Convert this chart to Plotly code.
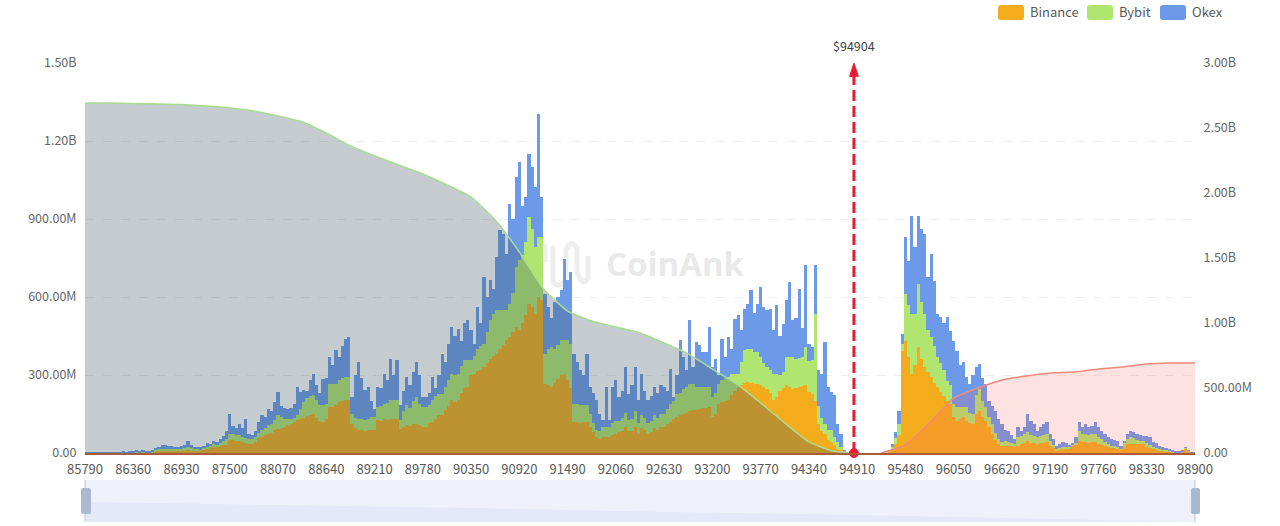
import plotly.graph_objects as go

# liquidation levels, values in millions, one row per x tick interval
binance = [
    0,0,1,0,0,1,1,0,1,1,1,1,1,1,1,
    1,2,2,3,2,1,3,6,8,9,10,10,9,9,10,
    10,11,13,11,9,9,8,12,17,18,24,22,26,30,32,
    49,50,47,46,42,40,36,36,44,56,62,68,74,78,87,
    94,98,100,106,112,120,126,130,135,142,148,151,135,124,119,
    130,177,177,185,195,200,203,203,113,95,87,87,85,87,87,
    90,126,125,130,128,132,130,132,94,100,108,105,110,113,108,
    100,100,115,120,130,145,145,165,180,203,195,203,230,250,254,
    300,305,315,320,331,345,360,375,382,400,415,433,445,465,485,
    472,500,530,574,560,536,600,590,267,260,254,270,285,300,305,
    279,250,119,119,115,120,119,100,80,62,55,62,62,62,70,
    74,80,85,100,85,85,100,75,95,90,75,80,95,90,100,
    100,110,120,130,138,145,150,155,160,164,165,170,172,175,177,
    138,150,190,195,200,203,225,240,254,260,268,273,270,265,267,
    260,255,247,230,203,215,240,250,260,255,247,250,255,258,260,
    235,228,200,110,85,74,50,42,30,17,10,3,0,0,0,
    0,0,0,0,0,0,0,0,0,0,5,15,35,70,394,
    432,370,304,340,406,360,329,310,291,270,253,235,220,201,190,
    140,124,130,137,125,115,112,150,163,140,124,100,73,50,35,
    28,28,28,28,25,28,35,40,47,40,38,35,38,40,41,
    28,20,9,12,15,14,18,28,30,47,42,42,40,41,41,
    35,32,28,25,22,20,18,12,25,35,35,33,35,35,33,
    22,20,14,12,9,8,6,4,3,2,2,4,19,6,1,
    1,
]
bybit = [
    0,0,0,0,0,0,0,0,0,1,0,1,1,1,1,
    1,2,1,3,1,1,2,5,6,7,7,7,6,6,6,
    7,7,12,7,6,6,5,7,8,8,10,9,12,15,22,
    25,24,22,23,18,17,19,19,18,22,28,28,32,32,39,
    51,40,32,24,18,14,20,40,60,68,72,71,70,60,64,
    60,90,90,82,85,88,89,89,38,40,45,42,41,45,51,
    48,51,55,60,65,71,72,71,32,60,75,70,90,102,80,
    77,77,70,85,90,83,83,90,100,102,105,102,105,106,102,
    56,70,85,90,89,120,150,160,167,149,134,116,130,150,230,
    269,260,280,333,300,256,230,240,115,140,154,130,130,133,128,
    154,170,71,70,68,65,64,50,35,25,30,38,38,38,45,
    50,45,50,55,42,45,60,40,50,45,40,45,50,45,51,
    51,60,70,70,90,85,95,100,105,103,90,85,80,80,77,
    77,80,77,85,90,89,80,65,51,90,130,128,130,125,121,
    109,90,84,90,102,90,60,60,109,114,122,110,110,110,148,
    120,128,336,70,50,39,40,45,30,25,12,2,0,0,0,
    0,0,0,0,0,0,0,0,0,0,3,10,22,42,26,
    179,200,231,195,244,220,206,165,154,140,115,110,100,77,70,
    50,52,46,39,51,40,38,75,83,60,52,40,39,28,20,
    15,18,15,12,8,35,32,33,32,30,28,25,28,30,32,
    18,12,6,8,9,8,6,6,10,39,30,32,30,32,32,
    25,20,15,10,6,8,6,4,12,20,25,25,14,12,14,
    15,12,8,8,6,5,4,4,2,1,1,2,2,2,1,
    0,
]
okex = [
    1,1,1,1,1,1,1,1,1,1,1,1,2,1,2,
    3,4,3,5,3,3,3,9,11,13,13,11,11,9,9,
    9,11,23,12,9,10,9,8,13,10,14,11,14,19,31,
    77,31,26,41,35,75,20,13,23,42,55,44,64,50,69,
    90,42,43,40,42,56,108,65,46,30,60,83,55,46,103,
    100,102,73,128,90,122,148,154,64,165,218,161,115,122,62,
    30,77,70,115,87,160,98,153,60,80,109,85,110,135,112,
    40,38,45,87,30,72,154,95,140,180,150,173,95,144,154,
    116,45,162,90,257,135,154,95,205,307,295,218,384,285,346,
    378,190,175,244,240,231,472,155,231,162,112,181,185,193,314,
    231,276,192,161,135,115,199,104,115,116,65,26,154,26,139,
    155,90,105,176,101,130,171,88,160,105,88,95,109,95,109,
    103,70,134,15,72,203,124,65,245,63,172,159,136,133,231,
    116,130,33,160,79,154,95,212,225,122,157,173,226,150,186,
    269,215,218,235,167,263,150,187,218,289,141,160,267,112,314,
    65,52,186,140,170,314,164,148,162,71,52,5,0,0,0,
    0,0,0,0,0,0,0,0,0,0,3,10,25,50,38,
    218,170,378,256,263,281,307,201,320,253,167,177,180,244,210,
    242,218,164,173,115,110,150,104,96,90,89,61,68,85,75,
    69,44,43,30,21,36,18,26,71,54,44,26,33,40,45,
    27,23,13,15,17,16,4,1,20,32,27,36,30,32,45,
    39,33,32,25,26,22,24,12,8,18,26,22,26,23,20,
    30,28,19,18,13,12,10,7,5,3,2,2,1,2,1,
    1,
]
prices = list(range(85790, 98901, 38))

# cumulative curves, millions, one value per half tick (None where the curve sits on the axis)
cum_prices = list(range(85790, 98901, 285))
cum_short = [
    2692,2692,2688,2685,2681,2669,2654,2631,2592,2546,2462,2362,2285,2215,2146,2062,
    1969,1792,1546,1262,1092,1015,969,923,846,762,646,531,385,231,85,15,
    0,None,None,None,None,None,None,None,None,None,None,None,None,None,None,
]
cum_long = [
    None,None,None,None,None,None,None,None,None,None,None,None,None,None,None,None,
    None,None,None,None,None,None,None,None,None,None,None,None,None,None,None,None,
    None,0,62,231,423,500,562,592,615,623,646,662,685,692,692,
]

current_price = 94904
# the site draws its marker on the nearest category, a little left of the tick
marker_x = 94872
tick_prices = list(range(85790, 98901, 570))
left_vals = [0, 300, 600, 900, 1200, 1500]
left_text = ["0.00", "300.00M", "600.00M", "900.00M", "1.20B", "1.50B"]
right_vals = [0, 500, 1000, 1500, 2000, 2500, 3000]
right_text = ["0.00", "500.00M", "1.00B", "1.50B", "2.00B", "2.50B", "3.00B"]
overview_prices = [85790, 88070, 90350, 92630, 94910, 97190, 98900]
overview_values = [20, 17, 14, 10, 7, 3, 0]

FONT = "Noto Sans CJK SC"
W, H = 1280, 526
L, R = 85, 1195


def px(x):
    return (x - L) / (R - L)


def py(y):
    return 1 - y / H


def round_rect(x0, y0, x1, y1, r):
    return (f"M{px(x0 + r)},{py(y0)} L{px(x1 - r)},{py(y0)} Q{px(x1)},{py(y0)} {px(x1)},{py(y0 + r)} "
            f"L{px(x1)},{py(y1 - r)} Q{px(x1)},{py(y1)} {px(x1 - r)},{py(y1)} "
            f"L{px(x0 + r)},{py(y1)} Q{px(x0)},{py(y1)} {px(x0)},{py(y1 - r)} "
            f"L{px(x0)},{py(y0 + r)} Q{px(x0)},{py(y0)} {px(x0 + r)},{py(y0)} Z")


fig = go.Figure()
for name, vals, color in [("Binance", binance, "#f5ac1c"),
                          ("Bybit", bybit, "#b0e670"),
                          ("Okex", okex, "#6c9ae8")]:
    fig.add_trace(go.Bar(x=prices, y=vals, name=name, width=38, marker_color=color,
                         marker_line_width=0, xaxis="x", yaxis="y"))

fig.add_trace(go.Scatter(x=cum_prices, y=cum_short, mode="lines", yaxis="y2", fill="tozeroy",
                         line=dict(color="#a9dc92", width=1.5, shape="spline", smoothing=0.5),
                         fillcolor="rgba(58,85,95,0.3)"))
fig.add_trace(go.Scatter(x=cum_prices, y=cum_long, mode="lines", yaxis="y2", fill="tozeroy",
                         line=dict(color="#ee8a7c", width=1.5, shape="spline", smoothing=0.5),
                         fillcolor="rgba(250,90,90,0.18)"))

# current price marker
fig.add_trace(go.Scatter(x=[marker_x, marker_x], y=[right_vals[0], right_vals[-1]],
                         mode="lines+markers", yaxis="y2", cliponaxis=False,
                         line=dict(color="#ea1c35", width=3, dash="11px,5px"),
                         marker=dict(color="#ea1c35", size=[9, 14], symbol=["circle", "arrow"], opacity=1,
                                     line=dict(color="#ea1c35", width=1))))

# range slider look
fig.add_trace(go.Scatter(x=overview_prices, y=overview_values, mode="lines", xaxis="x2", yaxis="y3",
                         fill="tozeroy", line_width=0, fillcolor="#e4e8f8"))

fig.update_layout(
    width=W, height=H, margin=dict(l=L, r=W - R, t=0, b=0),
    barmode="stack", bargap=0, showlegend=False, plot_bgcolor="rgba(0,0,0,0)", paper_bgcolor="white",
    font=dict(family=FONT, size=13, color="#666666"),
    xaxis=dict(range=[85790, 98900], tickmode="array", tickvals=tick_prices, automargin=False,
               ticktext=[str(p) for p in tick_prices], tickangle=0, showgrid=False, zeroline=False,
               showline=True, linecolor="#a85a3a", linewidth=2, anchor="y",
               ticks="outside", ticklen=3, tickcolor="rgba(0,0,0,0)",
               tickfont=dict(size=13, color="#595959")),
    yaxis=dict(domain=[py(453), py(63)], range=[0, 1500], tickmode="array", tickvals=left_vals, automargin=False,
               ticktext=left_text, showgrid=True, gridcolor="#eeeeee", griddash="dash", zeroline=False,
               ticks="outside", ticklen=5, tickcolor="rgba(0,0,0,0)", tickfont=dict(size=12.5, color="#666666")),
    yaxis2=dict(domain=[py(453), py(63)], range=[0, 3000], overlaying="y", side="right", tickmode="array",
                tickvals=right_vals, ticktext=right_text, showgrid=False, zeroline=False, automargin=False,
                ticks="outside", ticklen=5, tickcolor="rgba(0,0,0,0)", tickfont=dict(size=12.5, color="#666666")),
    xaxis2=dict(range=[85790, 98900], visible=False, anchor="y3", automargin=False),
    yaxis3=dict(domain=[py(522), py(480)], range=[0, 42], visible=False, anchor="x2", automargin=False),
)

shapes = [
    # watermark
    dict(type="path", xref="paper", yref="paper", layer="below", line=dict(color="#eeeeee", width=5),
         path=(f"M{px(545)},{py(244)} L{px(545)},{py(262)} M{px(553)},{py(246)} L{px(553)},{py(282)} "
               f"Q{px(561)},{py(290)} {px(566)},{py(278)} L{px(566)},{py(250)} "
               f"Q{px(571)},{py(238)} {px(577)},{py(248)} L{px(577)},{py(272)} "
               f"Q{px(583)},{py(288)} {px(588)},{py(278)} L{px(588)},{py(256)}")),
    dict(type="rect", xref="paper", yref="paper", layer="below", line_width=0, fillcolor="rgba(0,0,0,0)",
         x0=px(600), x1=px(750), y0=py(285), y1=py(245),
         label=dict(text="<b>CoinAnk</b>", font=dict(family="Open Sans", size=33, color="#e9e9e9"),
                    textposition="middle center")),
    # slider background and handles
    dict(type="rect", xref="paper", yref="paper", layer="below", line_width=0, fillcolor="#eef0fa",
         x0=px(85), x1=px(1195), y0=py(522), y1=py(480)),
    dict(type="line", xref="paper", yref="paper", line=dict(color="#b9c6d8", width=1),
         x0=px(85), x1=px(85), y0=py(522), y1=py(480)),
    dict(type="line", xref="paper", yref="paper", line=dict(color="#b9c6d8", width=1),
         x0=px(1195), x1=px(1195), y0=py(522), y1=py(480)),
    dict(type="path", xref="paper", yref="paper", line_width=0, fillcolor="#a8b9d0",
         path=round_rect(81, 488, 91, 514, 2)),
    dict(type="path", xref="paper", yref="paper", line_width=0, fillcolor="#a8b9d0",
         path=round_rect(1191, 488, 1200, 514, 2)),
]

annotations = [dict(x=marker_x, y=py(45), xref="x", yref="paper", text=f"${current_price}", showarrow=False,
                    yanchor="middle", font=dict(size=12.5, color="#444444"))]
# legend along the top right
for name, color, x0, x1, text_x in [("Binance", "#f5ac1c", 998, 1024, 1028),
                                    ("Bybit", "#b0e670", 1087, 1113, 1117),
                                    ("Okex", "#6c9ae8", 1160, 1186, 1190)]:
    shapes.append(dict(type="path", xref="paper", yref="paper", line_width=0, fillcolor=color,
                       path=round_rect(x0, 5, x1, 20, 3)))
    annotations.append(dict(x=px(text_x), y=py(12), xref="paper", yref="paper", text=name, showarrow=False,
                            xanchor="left", yanchor="middle", font=dict(size=13, color="#595959")))

fig.update_layout(shapes=shapes, annotations=annotations)
fig.write_html("out.html", config={"displayModeBar": False},
               post_script="document.body.style.margin='0';document.body.style.overflow='hidden';")
